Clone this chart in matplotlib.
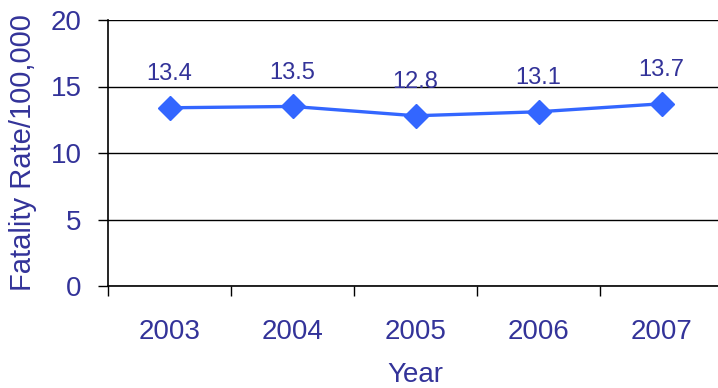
import matplotlib.pyplot as plt

years = ['2003', '2004', '2005', '2006', '2007']
rates = [13.4, 13.5, 12.8, 13.1, 13.7]
y_ticks = [0, 5, 10, 15, 20]

text_color = '#333399'
line_color = '#3366FF'

plt.rcParams['font.family'] = ['Liberation Sans', 'DejaVu Sans']

fig = plt.figure(figsize=(7.18, 3.88), dpi=100)
# plot area runs a few pixels past the right edge of the figure
ax = fig.add_axes([108 / 718, 102 / 388, 615 / 718, 266 / 388])

# category axis: boundaries as major ticks, year labels at the centers
n = len(years)
xs = list(range(n))
ax.set_xlim(-0.5, n - 0.5)
ax.set_xticks([i - 0.5 for i in range(n + 1)])
ax.set_xticklabels([])
ax.set_xticks(xs, minor=True)
ax.set_xticklabels(years, minor=True)
ax.tick_params(axis='x', which='major', direction='out', length=7, width=1, color='black')
ax.tick_params(axis='x', which='minor', length=0, pad=24, labelsize=20, labelcolor=text_color)

ax.set_ylim(0, 20)
ax.set_yticks(y_ticks)
ax.tick_params(axis='y', direction='out', length=7, width=1, pad=12,
               labelsize=20, labelcolor=text_color)
ax.grid(axis='y', color='black', linewidth=1)
ax.set_axisbelow(True)

for side in ['top', 'right']:
    ax.spines[side].set_visible(False)
ax.spines['left'].set_linewidth(1.2)
ax.spines['bottom'].set_linewidth(1.2)

ax.set_ylabel('Fatality Rate/100,000', fontsize=21, color=text_color)
ax.yaxis.set_label_coords(-0.1154, 0.5)
ax.set_xlabel('Year', fontsize=20, color=text_color)
ax.xaxis.set_label_coords(0.5, -0.286)

ax.plot(xs, rates, color=line_color, linewidth=2.4, marker='D', markersize=12,
        markeredgecolor=line_color, clip_on=False, zorder=3)
for x, v in zip(xs, rates):
    ax.annotate(f'{v}', (x, v), xytext=(0, 24), textcoords='offset points',
                ha='center', va='center', fontsize=17, color=text_color)

fig.savefig('out.png', dpi=100)
